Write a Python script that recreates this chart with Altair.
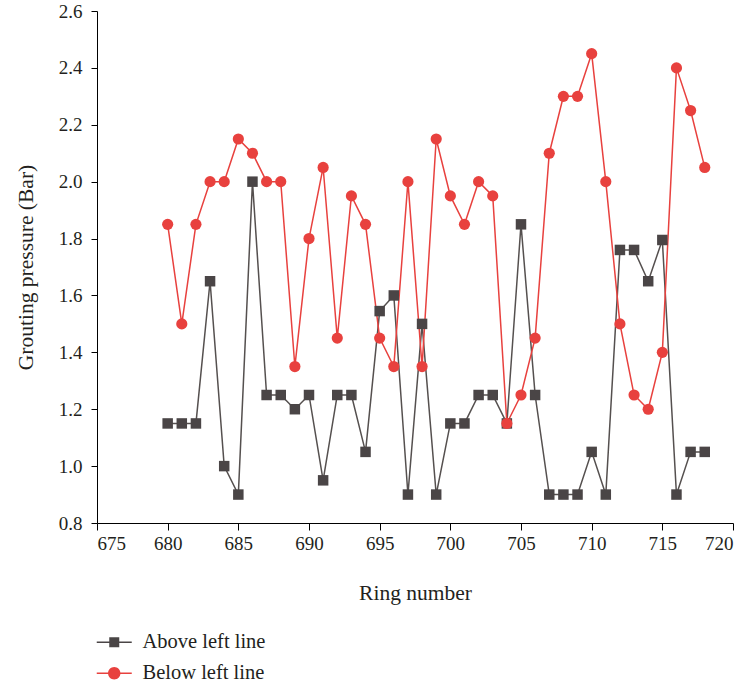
import altair as alt
import pandas as pd

# ---- data ----
rings = list(range(680, 719))
above_left = [1.15, 1.15, 1.15, 1.65, 1.00, 0.90, 2.00, 1.25, 1.25, 1.20,
              1.25, 0.95, 1.25, 1.25, 1.05, 1.545, 1.60, 0.90, 1.50, 0.90,
              1.15, 1.15, 1.25, 1.25, 1.15, 1.85, 1.25, 0.90, 0.90, 0.90,
              1.05, 0.90, 1.76, 1.76, 1.65, 1.795, 0.90, 1.05, 1.05]
below_left = [1.85, 1.50, 1.85, 2.00, 2.00, 2.15, 2.10, 2.00, 2.00, 1.35,
              1.80, 2.05, 1.45, 1.95, 1.85, 1.45, 1.35, 2.00, 1.35, 2.15,
              1.95, 1.85, 2.00, 1.95, 1.15, 1.25, 1.45, 2.10, 2.30, 2.30,
              2.45, 2.00, 1.50, 1.25, 1.20, 1.40, 2.40, 2.25, 2.05]
series = ["Above left line", "Below left line"]
x_ticks = [675, 680, 685, 690, 695, 700, 705, 710, 715, 720]
y_ticks = [0.8, 1.0, 1.2, 1.4, 1.6, 1.8, 2.0, 2.2, 2.4, 2.6]

df = pd.DataFrame({
    "ring": rings + rings,
    "value": above_left + below_left,
    "series": [series[0]] * len(rings) + [series[1]] * len(rings),
})

FONT = "Liberation Serif"
TEXT = "#231f20"
DARK = "#4a4546"
DARK_LINE = "#55504f"
RED = "#e8413e"
FS = 19
TFS = 21.5
LFS = 20.5

x_enc = alt.X(
    "ring:Q",
    scale=alt.Scale(domain=[675, 720], nice=False, zero=False),
    axis=alt.Axis(values=x_ticks, title="Ring number", tickSize=7, labelPadding=4,
                  titleX=318, titleY=70, titleBaseline="middle", titleAlign="center"),
)
y_enc = alt.Y(
    "value:Q",
    scale=alt.Scale(domain=[0.8, 2.6], nice=False, zero=False),
    axis=alt.Axis(values=y_ticks, format=".1f", title="Grouting pressure (Bar)",
                  tickSize=6, labelPadding=9, titleAngle=270, titleX=-71, titleY=256,
                  titleAlign="center", titleBaseline="middle"),
)

base = alt.Chart(df)
above = base.transform_filter(alt.datum.series == series[0])
below = base.transform_filter(alt.datum.series == series[1])

line_above = above.mark_line(strokeWidth=1.5, color=DARK_LINE).encode(x=x_enc, y=y_enc)
line_below = below.mark_line(strokeWidth=1.5, color=RED).encode(x=x_enc, y=y_enc)
squares = above.mark_point(shape="square", filled=True, opacity=1, size=110, color=DARK).encode(x=x_enc, y=y_enc)
circles = below.mark_point(shape="circle", filled=True, opacity=1, size=125, color=RED).encode(x=x_enc, y=y_enc)

# legend symbols: a short line with the series marker in its middle
sq_path = "M-1.75,-0.075H1.75V0.075H-1.75Z M-0.5,-0.5H0.5V0.5H-0.5Z"
ci_path = ("M-1.75,-0.075H1.75V0.075H-1.75Z "
           "M-0.62,0A0.62,0.62 0 1,1 0.62,0A0.62,0.62 0 1,1 -0.62,0Z")


def legend_def():
    return alt.Legend(
        orient="none", legendX=7, legendY=621, title=None, direction="vertical",
        symbolSize=400, symbolStrokeWidth=0, symbolOpacity=1, labelOffset=18, rowPadding=10,
        labelFont=FONT, labelFontSize=LFS, labelColor=TEXT, padding=0,
    )


# legend-only layer (no rows survive the filter, so it draws no marks)
legend_layer = base.transform_filter(alt.datum.value < 0).mark_point(filled=True, opacity=1).encode(
    x=x_enc, y=y_enc,
    color=alt.Color("series:N", scale=alt.Scale(domain=series, range=[DARK, RED]), legend=legend_def()),
    shape=alt.Shape("series:N", scale=alt.Scale(domain=series, range=[sq_path, ci_path]), legend=legend_def()),
)

chart = alt.layer(line_above, line_below, squares, circles, legend_layer).properties(
    width=636, height=512,
    autosize=alt.AutoSizeParams(type="none"),
    padding={"left": 97, "top": 11, "right": 16, "bottom": 161},
).configure_view(stroke=None).configure_axis(
    grid=False, domainColor="#000000", tickColor="#000000", domainWidth=1, tickWidth=1,
    labelFont=FONT, labelFontSize=FS, labelColor=TEXT,
    titleFont=FONT, titleFontSize=TFS, titleFontWeight="normal", titleColor=TEXT,
)

chart.save("out.html", embed_options={"renderer": "svg", "actions": False})
